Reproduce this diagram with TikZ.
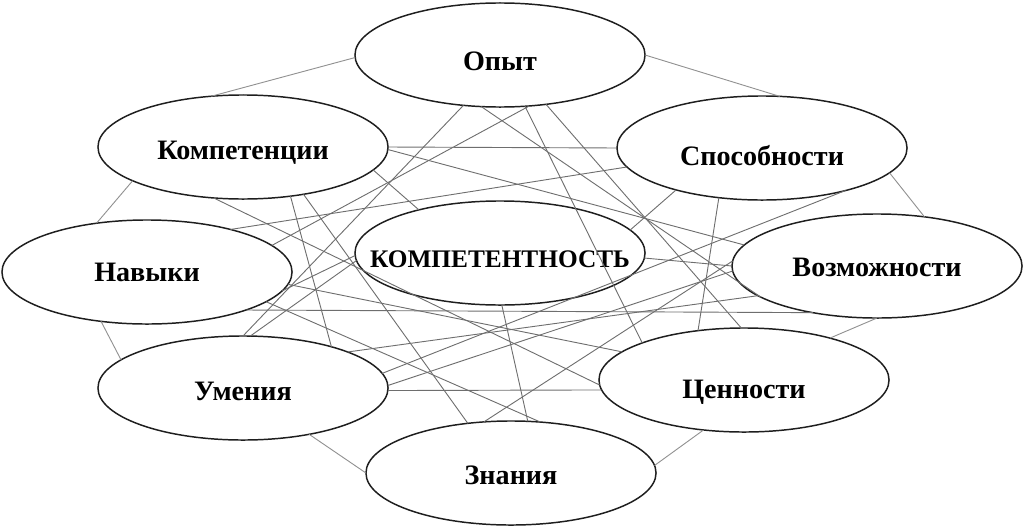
\documentclass[tikz,border=0pt]{standalone}
\usepackage{fontspec}
\setmainfont{Liberation Serif}
\usepackage{tikz}
\usetikzlibrary{shapes.geometric}
\definecolor{webGray}{RGB}{110,110,110}
\definecolor{rimGray}{RGB}{145,145,145}
\definecolor{ovalInk}{RGB}{30,30,30}

\begin{document}
\begin{tikzpicture}[x=0.025cm,y=-0.025cm,
  oval/.style={ellipse, draw=ovalInk, line width=1.05pt, fill=white,
    minimum width=7.25cm, minimum height=2.6cm, inner sep=0pt, outer sep=0pt,
    text height=#1, text depth=0pt,
    font=\fontsize{20}{24}\selectfont\bfseries},
  oval/.default=14pt,
  link/.style={draw=webGray, line width=0.65pt},
  rim/.style={draw=rimGray, line width=0.65pt}]
\useasboundingbox (0,0) rectangle (1023,526);
% ovals
\node[oval=22.5pt] (opyt) at (500,55) {Опыт};
\node[oval=18.3pt] (komp) at (243,147) {Компетенции};
\node[oval=25.4pt] (sposob) at (762,148) {Способности};
\node[oval] (navyki) at (147,272) {Навыки};
\node[oval=20pt, font=\fontsize{18}{22}\selectfont\bfseries] (center) at (500,253)
  {\makebox[0pt]{КОМПЕТЕНТНОСТЬ}};
\node[oval=15.4pt] (vozm) at (877,266) {Возможности};
\node[oval=18.3pt] (umen) at (243,388) {Умения};
\node[oval=26.8pt] (cennost) at (744,380) {Ценности};
\node[oval=16.8pt] (znan) at (511,473) {Знания};
% outer ring
\draw[rim] (komp.122) -- (opyt.181);
\draw[rim] (opyt.0) -- (sposob.71);
\draw[rim] (sposob.349) -- (vozm.46);
\draw[rim] (vozm.270) -- (cennost.26);
\draw[rim] (cennost.231) -- (znan.3);
\draw[rim] (znan.180) -- (umen.325);
\draw[rim] (umen.167) -- (navyki.227);
\draw[rim] (navyki.136) -- (komp.197);
% inner web
\draw[link] (komp.0) -- (sposob.180);
\draw[link] (komp.359) -- (vozm.171);
\draw[link] (komp.350) -- (center.152);
\draw[link] (komp.314) -- (umen.25);
\draw[link] (komp.322) -- (znan.131);
\draw[link] (komp.240) -- (cennost.182);
\draw[link] (opyt.234) -- (umen.90);
\draw[link] (opyt.300) -- (navyki.12);
\draw[link] (opyt.250) -- (vozm.195);
\draw[link] (opyt.296) -- (cennost.160);
\draw[link] (opyt.313) -- (cennost.93);
\draw[link] (navyki.27) -- (sposob.188);
\draw[link] (navyki.339) -- (vozm.216);
\draw[link] (navyki.355) -- (cennost.167);
\draw[link] (navyki.346) -- (znan.60);
\draw[link] (navyki.352) -- (center.181);
\draw[link] (center.358) -- (vozm.180);
\draw[link] (center.10) -- (sposob.206);
\draw[link] (center.272) -- (znan.72);
\draw[link] (umen.6) -- (sposob.333);
\draw[link] (umen.1) -- (vozm.182);
\draw[link] (umen.-1) -- (cennost.184);
\draw[link] (umen.19) -- (vozm.194);
\draw[link] (umen.82) -- (center.183);
\draw[link] (sposob.229) -- (cennost.133);
\draw[link] (znan.118) -- (vozm.178);
\end{tikzpicture}
\end{document}
